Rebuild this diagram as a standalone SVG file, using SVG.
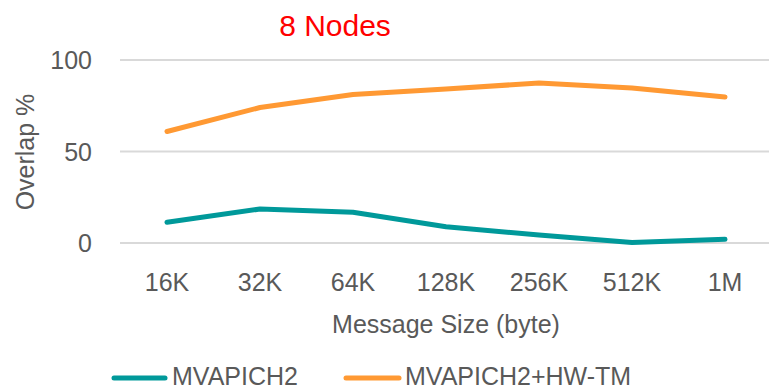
<svg xmlns="http://www.w3.org/2000/svg" width="769" height="391" viewBox="0 0 769 391">
<style>
.t{font-family:"Liberation Sans",Arial,sans-serif;fill:#595959;font-size:25px}
.grid{stroke:#D9D9D9;stroke-width:2;fill:none}
.s{fill:none;stroke-width:5;stroke-linecap:round;stroke-linejoin:round}
</style>
<rect width="769" height="391" fill="#fff"/>
<text x="335" y="36" text-anchor="middle" style="font-family:'Liberation Sans',Arial,sans-serif;font-size:30px;fill:#FF0000">8 Nodes</text>
<g id="axes">
<line class="grid" x1="120" y1="60" x2="769" y2="60"/>
<line class="grid" x1="120" y1="151.5" x2="769" y2="151.5"/>
<line class="grid" x1="120" y1="243" x2="769" y2="243"/>
<text class="t" x="92" y="69" text-anchor="end">100</text>
<text class="t" x="92" y="160.5" text-anchor="end">50</text>
<text class="t" x="92" y="252" text-anchor="end">0</text>
<text class="t" x="167" y="291" text-anchor="middle">16K</text>
<text class="t" x="260" y="291" text-anchor="middle">32K</text>
<text class="t" x="353" y="291" text-anchor="middle">64K</text>
<text class="t" x="446" y="291" text-anchor="middle">128K</text>
<text class="t" x="539" y="291" text-anchor="middle">256K</text>
<text class="t" x="632" y="291" text-anchor="middle">512K</text>
<text class="t" x="725" y="291" text-anchor="middle">1M</text>
<text class="t" x="446" y="333" text-anchor="middle">Message Size (byte)</text>
<text class="t" transform="translate(34,152) rotate(-90)" text-anchor="middle">Overlap %</text>
</g>
<g id="connectors">
<polyline id="mvapich2" class="s" stroke="#00999A" points="167,222.3 260,209 353,212.3 446,226.7 539,235 632,242.5 725,239.3"/>
<polyline id="hwtm" class="s" stroke="#FF9933" points="167,131.5 260,107.5 353,94.5 446,89 539,83 632,88 725,97"/>
</g>
<g id="legend">
<line x1="114" y1="378" x2="165" y2="378" class="s" stroke="#00999A"/>
<text class="t" x="172" y="385">MVAPICH2</text>
<line x1="346" y1="378" x2="399" y2="378" class="s" stroke="#FF9933"/>
<text class="t" x="405" y="385">MVAPICH2+HW-TM</text>
</g>
</svg>
